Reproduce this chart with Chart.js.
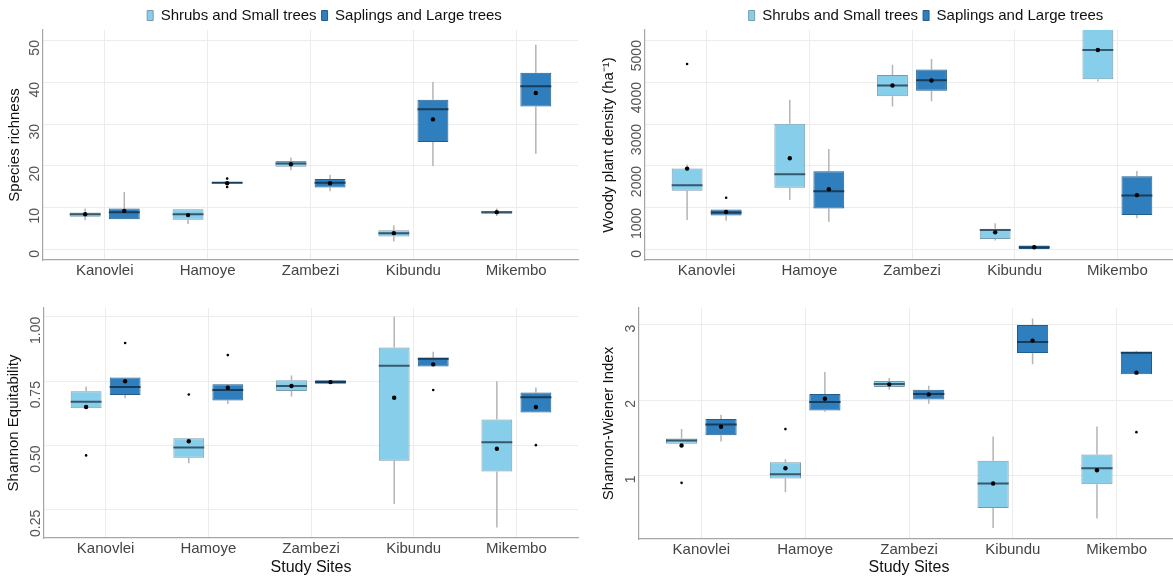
<!DOCTYPE html>
<html>
<head>
<meta charset="utf-8">
<script src="https://cdn.jsdelivr.net/npm/chart.js@4.4.0/dist/chart.umd.min.js"></script>
<style>
  body { margin: 0; background: #fff; width: 1173px; height: 577px; overflow: hidden; position: relative; }
  .panel { position: absolute; }
</style>
</head>
<body>
<div class="panel" style="left:0;top:0;width:583px;height:290px"><canvas id="rich"></canvas></div>
<div class="panel" style="left:583px;top:0;width:600px;height:290px"><canvas id="dens"></canvas></div>
<div class="panel" style="left:0;top:290px;width:583px;height:287px"><canvas id="equi"></canvas></div>
<div class="panel" style="left:583px;top:290px;width:600px;height:287px"><canvas id="shan"></canvas></div>
<script>
const sites = ['Kanovlei', 'Hamoye', 'Zambezi', 'Kibundu', 'Mikembo'];
const groupNames = ['Shrubs and Small trees', 'Saplings and Large trees'];

// box stats per site: [lower whisker, Q1, median, Q3, upper whisker]
const richShrubBox = [[7.1, 7.9, 8.5, 8.9, 9.9], [6.2, 7.2, 8.5, 9.7, 9.7], [19.0, 19.8, 20.6, 21.2, 22.0], [2.0, 3.2, 4.0, 4.7, 5.9], [8.1, 8.6, 9.0, 9.3, 9.9]];
const richShrubMean = [8.5, 8.3, 20.4, 4.0, 9.0];
const richShrubOut = [[], [], [], [], []];
const richSapBox = [[7.3, 7.3, 9.0, 9.9, 13.8], [16, 16, 16, 16, 16], [14.0, 14.9, 16.0, 16.9, 17.9], [20.0, 25.7, 33.5, 35.8, 40.0], [22.9, 34.2, 39.0, 42.2, 48.9]];
const richSapMean = [9.3, 15.9, 15.9, 31.1, 37.4];
const richSapOut = [[], [17, 15], [], [], []];
const richTicks = [0, 10, 20, 30, 40, 50];

const densShrubBox = [[712, 1408, 1543, 1938, 2033], [1187, 1479, 1804, 3006, 3576], [3418, 3663, 3916, 4169, 4415], [222, 261, 475, 506, 633], [4011, 4066, 4763, 5350, 5600]];
const densShrubMean = [1938, 2184, 3916, 419, 4763];
const densShrubOut = [[4430], [], [], [], []];
const densSapBox = [[696, 823, 894, 965, 965], [672, 989, 1400, 1875, 2405], [3544, 3790, 4043, 4296, 4549], [24, 24, 63, 103, 103], [752, 831, 1297, 1756, 1883]];
const densSapMean = [902, 1448, 4035, 63, 1305];
const densSapOut = [[1242], [], [], [], []];
const densTicks = [0, 1000, 2000, 3000, 4000, 5000];

const equiShrubBox = [[0.644, 0.644, 0.670, 0.710, 0.729], [0.431, 0.452, 0.492, 0.528, 0.528], [0.690, 0.711, 0.731, 0.753, 0.772], [0.272, 0.440, 0.810, 0.880, 1.000], [0.181, 0.398, 0.512, 0.601, 0.749]];
const equiShrubMean = [0.649, 0.516, 0.731, 0.685, 0.487];
const equiShrubOut = [[0.461], [0.698], [], [], []];
const equiSapBox = [[0.683, 0.696, 0.727, 0.764, 0.764], [0.661, 0.674, 0.715, 0.738, 0.738], [0.740, 0.740, 0.746, 0.753, 0.753], [0.807, 0.807, 0.837, 0.841, 0.864], [0.628, 0.628, 0.687, 0.706, 0.725]];
const equiSapMean = [0.749, 0.724, 0.746, 0.815, 0.649];
const equiSapOut = [[0.898], [0.851], [], [0.715], [0.501]];
const equiTicks = [0.25, 0.50, 0.75, 1.00];

const shanShrubBox = [[1.420, 1.420, 1.465, 1.491, 1.615], [0.779, 0.960, 1.018, 1.177, 1.217], [2.137, 2.173, 2.212, 2.252, 2.292], [0.305, 0.571, 0.894, 1.195, 1.518], [0.429, 0.885, 1.097, 1.279, 1.650]];
const shanShrubMean = [1.398, 1.097, 2.208, 0.894, 1.071];
const shanShrubOut = [[0.903], [1.615], [], [], []];
const shanSapBox = [[1.451, 1.535, 1.677, 1.748, 1.805], [1.845, 1.863, 1.973, 2.080, 2.372], [1.951, 2.009, 2.080, 2.137, 2.190], [2.473, 2.624, 2.770, 2.996, 3.080], [2.341, 2.341, 2.628, 2.637, 2.646]];
const shanSapMean = [1.646, 2.018, 2.075, 2.788, 2.363];
const shanSapOut = [[], [], [], [], [1.575]];
const shanTicks = [1, 2, 3];

Chart.defaults.font.family = '"Liberation Sans", Arial, sans-serif';

const fills = ['#87ceeb', '#2f7fbf'];
const edges = ['#7a9aab', '#235d8a'];
const medColors = ['#35586c', '#183d5a'];
const dodge = [-0.19, 0.19];
const halfBox = 0.15;

function makePanel(id, groups, p) {
  const datasets = [];
  const whiskers = [], means = [], outs = [];
  groups.forEach((g, gi) => {
    const boxes = [], meds = [];
    g.box.forEach((b, i) => {
      const x = i + 1 + dodge[gi];
      whiskers.push({x: x, y: b[0]}, {x: x, y: b[1]}, {x: x, y: null},
                    {x: x, y: b[3]}, {x: x, y: b[4]}, {x: x, y: null});
      boxes.push({x: x, y: [b[1], b[3]]});
      meds.push({x: x - halfBox, y: b[2]}, {x: x + halfBox, y: b[2]}, {x: x, y: null});
      means.push({x: x, y: g.mean[i]});
      g.out[i].forEach(v => outs.push({x: x, y: v}));
    });
    datasets.push({
      type: 'bar', label: groupNames[gi], data: boxes, order: 4,
      backgroundColor: fills[gi], borderColor: edges[gi], borderWidth: 1, borderSkipped: false,
      grouped: false, categoryPercentage: 1, barPercentage: 0.79
    });
    datasets.push({
      type: 'scatter', data: meds, showLine: true, spanGaps: false, order: 3,
      borderColor: medColors[gi], borderWidth: 2, pointRadius: 0
    });
  });
  datasets.push({type: 'scatter', data: whiskers, showLine: true, spanGaps: false, order: 5,
    borderColor: '#b4b4b4', borderWidth: 1.5, pointRadius: 0});
  datasets.push({type: 'scatter', data: means, order: 2,
    backgroundColor: '#000', borderWidth: 0, pointRadius: 2.2});
  datasets.push({type: 'scatter', data: outs, order: 1,
    backgroundColor: '#000', borderWidth: 0, pointRadius: 1.3});

  // nudge the legend so it sits over the panel like the ggplot original
  const legendNudge = {
    id: 'legendNudge',
    afterLayout(chart) {
      const l = chart.legend;
      if (!l || !p.legend) return;
      l.left += 14; l.right += 14;
      l.top += 3; l.bottom += 3;
      l.adjustHitBoxes();
    }
  };

  new Chart(document.getElementById(id), {
    type: 'scatter',
    data: {datasets: datasets},
    plugins: [legendNudge],
    options: {
      responsive: true,
      maintainAspectRatio: false,
      animation: false,
      layout: {padding: {top: p.padTop, right: p.padRight, bottom: 0, left: 0}},
      plugins: {
        tooltip: {enabled: false},
        legend: {
          display: p.legend,
          position: 'top',
          fullSize: false,
          labels: {
            filter: (item, data) => data.datasets[item.datasetIndex].type === 'bar',
            boxWidth: 6, boxHeight: 10, padding: 5, color: '#111', font: {size: 15}
          }
        }
      },
      scales: {
        x: {
          type: 'linear', min: 0.4, max: 5.6, offset: false,
          afterBuildTicks: s => { s.ticks = sites.map((n, i) => ({value: i + 1})); },
          afterFit: s => { s.height = p.xHeight; s.paddingLeft = 0; s.paddingRight = 0; },
          ticks: {callback: v => sites[v - 1], color: '#444', font: {size: 15}, padding: 2,
                  maxRotation: 0, autoSkip: false},
          grid: {color: '#ececec', drawTicks: false, offset: false},
          border: {color: '#a6a6a6', width: 1.2},
          title: {display: !!p.xTitle, text: p.xTitle, color: '#111', font: {size: 16},
                  padding: {top: 0, bottom: 0}}
        },
        y: {
          type: 'linear', min: p.min, max: p.max,
          afterBuildTicks: s => { s.ticks = p.ticks.map(v => ({value: v})); },
          afterFit: s => { s.width = p.yWidth; s.paddingTop = 0; s.paddingBottom = 0; },
          ticks: {callback: p.fmt, color: '#555', font: {size: 14}, padding: 8, minRotation: 90, maxRotation: 90},
          grid: {color: '#ececec', drawTicks: false},
          border: {color: '#a6a6a6', width: 1.2},
          title: {display: true, text: p.yTitle, color: '#111', font: {size: 15},
                  padding: {top: p.titlePad, bottom: 0}}
        }
      }
    }
  });
}

makePanel('rich', [
  {box: richShrubBox, mean: richShrubMean, out: richShrubOut},
  {box: richSapBox, mean: richSapMean, out: richSapOut}
], {min: -2.4, max: 52.4, ticks: richTicks, fmt: v => v, yTitle: 'Species richness',
    legend: true, padTop: 0, padRight: 5, yWidth: 43, xHeight: 30, titlePad: 6});

makePanel('dens', [
  {box: densShrubBox, mean: densShrubMean, out: densShrubOut},
  {box: densSapBox, mean: densSapMean, out: densSapOut}
], {min: -240, max: 5240, ticks: densTicks, fmt: v => v, yTitle: 'Woody plant density (ha\u207B\u00B9)',
    legend: true, padTop: 0, padRight: 0, yWidth: 62, xHeight: 30, titlePad: 17});

makePanel('equi', [
  {box: equiShrubBox, mean: equiShrubMean, out: equiShrubOut},
  {box: equiSapBox, mean: equiSapMean, out: equiSapOut}
], {min: 0.14, max: 1.034, ticks: equiTicks, fmt: v => v.toFixed(2), yTitle: 'Shannon Equitability',
    xTitle: 'Study Sites', legend: false, padTop: 18, padRight: 5, yWidth: 44, xHeight: 39, titlePad: 5});

makePanel('shan', [
  {box: shanShrubBox, mean: shanShrubMean, out: shanShrubOut},
  {box: shanSapBox, mean: shanSapMean, out: shanSapOut}
], {min: 0.159, max: 3.22, ticks: shanTicks, fmt: v => v, yTitle: 'Shannon-Wiener Index',
    xTitle: 'Study Sites', legend: false, padTop: 18, padRight: 3, yWidth: 56, xHeight: 38, titlePad: 17});
</script>
</body>
</html>
